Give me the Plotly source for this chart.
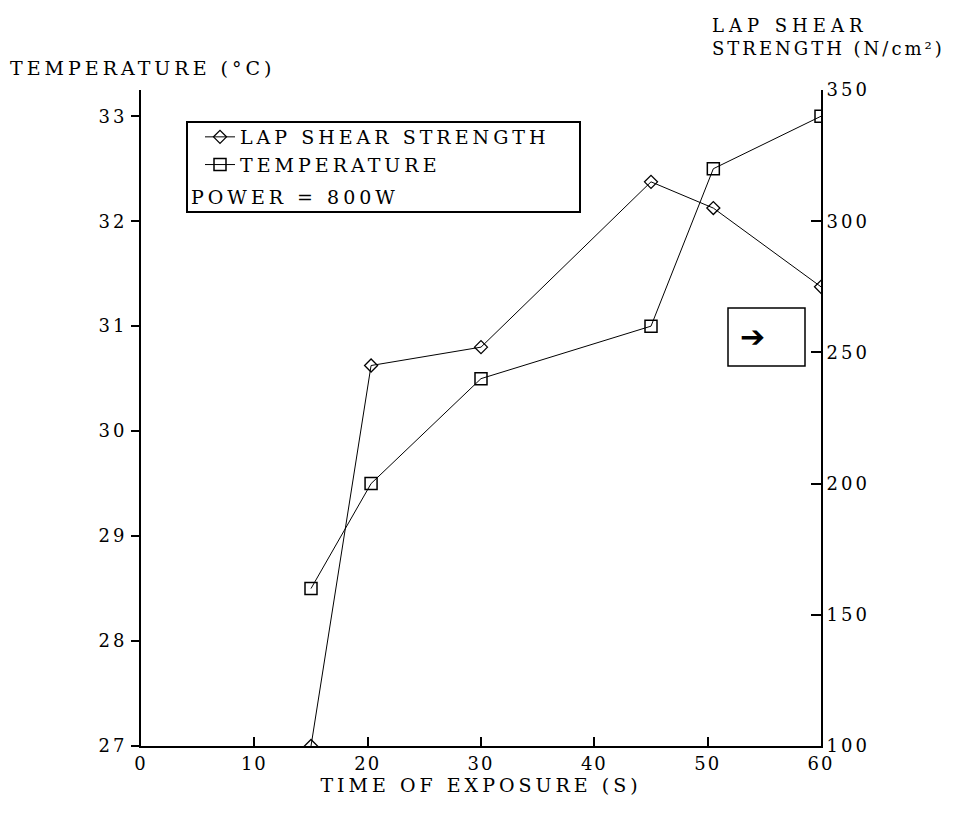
import plotly.graph_objects as go

time_s = [15, 20.3, 30, 45, 50.5, 60]
lap_shear = [100, 245, 252, 315, 305, 275]
temperature = [28.5, 29.5, 30.5, 31.0, 32.5, 33.0]
x_ticks = [0, 10, 20, 30, 40, 50, 60]
left_ticks = [27, 28, 29, 30, 31, 32, 33]
right_ticks = [100, 150, 200, 250, 300, 350]

FONT = "DejaVu Serif"


def spaced(t, ls):
    return f'<span style="letter-spacing:{ls}px">{t}</span>'


# screenshot pixel -> figure pixel offset (page body margin 8px)
L, T = 141 - 8, 90 - 8
PW, PH = 680, 656
W, H = 965, 805


def px(x):
    return (x - 141) / PW


def py(y):
    return (746 - y) / PH


fig = go.Figure()
fig.add_trace(go.Scatter(
    x=time_s, y=lap_shear, yaxis="y2", name=spaced("LAP SHEAR STRENGTH", 4),
    mode="lines+markers", line=dict(color="black", width=1),
    marker=dict(symbol="diamond-open", size=10, color="black", line=dict(width=1.3)),
))
fig.add_trace(go.Scatter(
    x=time_s, y=temperature, name=spaced("TEMPERATURE", 4),
    mode="lines+markers", line=dict(color="black", width=1),
    marker=dict(symbol="square-open", size=12, color="black", line=dict(width=1.5)),
))

fig.update_layout(
    width=W, height=H,
    margin=dict(l=L, r=W - L - PW, t=T, b=H - T - PH, autoexpand=False),
    paper_bgcolor="white", plot_bgcolor="white",
    font=dict(family=FONT, size=17, color="black"),
    showlegend=True,
    legend=dict(
        x=px(200), y=py(118), xanchor="left", yanchor="top",
        borderwidth=0, bgcolor="rgba(0,0,0,0)",
        font=dict(family=FONT, size=19), itemwidth=30,
    ),
    xaxis=dict(
        range=[0, 60], tickvals=x_ticks, ticktext=[spaced(str(v), 2) for v in x_ticks],
        showline=True, linecolor="black", linewidth=2,
        ticks="inside", ticklen=9, tickcolor="black", tickwidth=1.5,
        showgrid=False, zeroline=False, tickfont=dict(size=18),
        title=dict(text=spaced("TIME OF EXPOSURE (S)", 4), font=dict(size=19), standoff=2),
    ),
    yaxis=dict(
        range=[27, 33.25], tickvals=left_ticks, ticktext=[spaced(str(v), 3) for v in left_ticks],
        showline=True, linecolor="black", linewidth=2,
        ticks="outside", ticklen=8, tickcolor="black", tickwidth=1.5,
        showgrid=False, zeroline=False, tickfont=dict(size=18),
    ),
    yaxis2=dict(
        range=[100, 350], tickvals=right_ticks, ticktext=[spaced(str(v), 3) for v in right_ticks],
        overlaying="y", side="right",
        showline=True, linecolor="black", linewidth=2,
        ticks="inside", ticklen=10, tickcolor="black", tickwidth=1.5,
        showgrid=False, zeroline=False, tickfont=dict(size=18),
    ),
)

# legend frame and extra line
fig.add_shape(
    type="rect", xref="paper", yref="paper",
    x0=px(187), x1=px(580), y0=py(212), y1=py(122),
    line=dict(color="black", width=2), fillcolor="rgba(0,0,0,0)", layer="above",
)
fig.add_annotation(
    xref="paper", yref="paper", x=px(189), y=py(197), xanchor="left", yanchor="middle",
    text=spaced("POWER = 800W", 4), showarrow=False, font=dict(family=FONT, size=19),
)

fig.add_annotation(
    xref="paper", yref="paper", x=px(8), y=py(68), xanchor="left", yanchor="middle",
    text=spaced("TEMPERATURE (°C)", 4), showarrow=False, font=dict(family=FONT, size=19),
)
fig.add_annotation(
    xref="paper", yref="paper", x=px(710), y=py(37), xanchor="left", yanchor="middle",
    text=spaced("LAP SHEAR", 5) + "<br>" + spaced("STRENGTH (N/cm²)", 3),
    showarrow=False, align="left", font=dict(family=FONT, size=18),
)
fig.add_shape(
    type="rect", xref="paper", yref="paper",
    x0=px(728), x1=px(805), y0=py(366), y1=py(308),
    line=dict(color="black", width=1.5), fillcolor="white",
)
fig.add_annotation(
    xref="paper", yref="paper", x=px(767), y=py(336),
    text="<b>➔</b>", showarrow=False, font=dict(family="DejaVu Sans", size=30),
)

fig.write_html("out.html")
